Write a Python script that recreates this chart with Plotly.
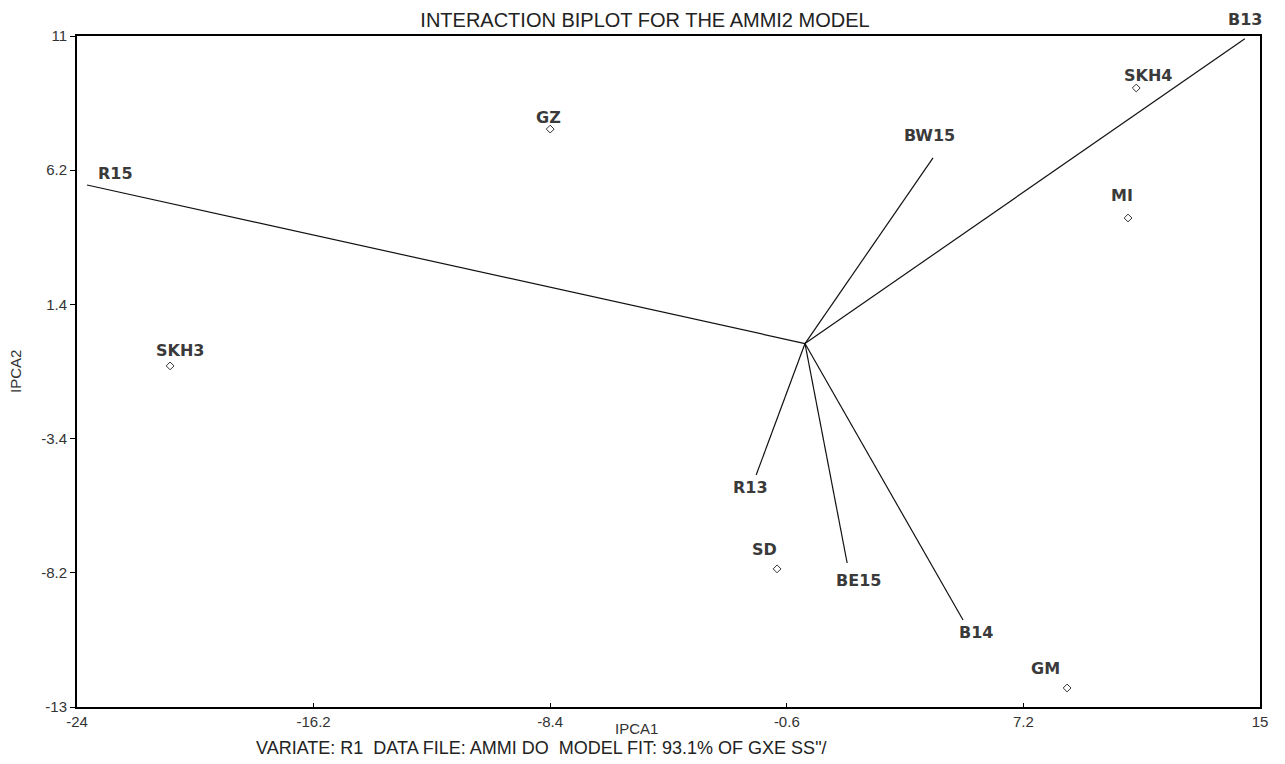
import plotly.graph_objects as go

# Environment vectors (IPCA1, IPCA2 scores)
env_names = ["B13", "BW15", "R15", "R13", "BE15", "B14"]
env_ipca1 = [14.5, 4.22, -23.67, -1.61, 1.39, 5.21]
env_ipca2 = [10.9, 6.64, 5.67, -4.70, -7.85, -9.89]

# Genotype points
gen_names = ["GZ", "SKH4", "MI", "SKH3", "SD", "GM"]
gen_ipca1 = [-8.40, 10.92, 10.65, -20.93, -0.92, 8.64]
gen_ipca2 = [7.67, 9.14, 4.49, -0.80, -8.06, -12.32]

origin = (0.0, 0.0)

x_ticks = [-24, -16.2, -8.4, -0.6, 7.2, 15]
y_ticks = [-13, -8.2, -3.4, 1.4, 6.2, 11]

# label offsets in pixels (style only)
env_shift = {"B13": (0, 19), "BW15": (-4, 22), "R15": (28, 12),
             "R13": (-6, -13), "BE15": (11, -17), "B14": (13, -12)}
gen_shift = {"GZ": (-2, 12), "SKH4": (12, 13), "MI": (-6, 23),
             "SKH3": (10, 15), "SD": (-13, 19), "GM": (-22, 19)}

# page body has an 8px margin; figure sized so plot box lands at 77..1260 x 36..707
W, H = 1269, 756
ML, MR, MT, MB = 69, 17, 28, 57
PW, PH = W - ML - MR, H - MT - MB

fig = go.Figure()

vx, vy = [], []
for x, y in zip(env_ipca1, env_ipca2):
    vx += [origin[0], x, None]
    vy += [origin[1], y, None]

fig.add_trace(go.Scatter(x=vx, y=vy, mode="lines",
                         line=dict(color="#111111", width=1.2),
                         cliponaxis=False, hoverinfo="skip", showlegend=False))

fig.add_trace(go.Scatter(x=gen_ipca1, y=gen_ipca2, mode="markers",
                         marker=dict(symbol="diamond-open", size=6,
                                     color="#333333", line=dict(width=1, color="#333333")),
                         text=gen_names, showlegend=False))

label_font = dict(family="DejaVu Sans", size=16, color="#3a3a3a", weight="bold")
for n, x, y in zip(env_names, env_ipca1, env_ipca2):
    dx, dy = env_shift[n]
    fig.add_annotation(x=x, y=y, text=n, showarrow=False, xshift=dx, yshift=dy,
                       font=label_font)
for n, x, y in zip(gen_names, gen_ipca1, gen_ipca2):
    dx, dy = gen_shift[n]
    fig.add_annotation(x=x, y=y, text=n, showarrow=False, xshift=dx, yshift=dy,
                       font=label_font)

axis_title_font = dict(family="Liberation Sans, Arial", size=15, color="#333333")

# screen positions -> paper coords (screen plot box 77..1260, 36..707)
def px(sx):
    return (sx - 77) / PW

def py(sy):
    return (707 - sy) / PH

fig.add_annotation(xref="paper", yref="paper", x=px(636), y=py(728), text="IPCA1",
                   showarrow=False, xanchor="center", yanchor="middle", font=axis_title_font)
fig.add_annotation(xref="paper", yref="paper", x=px(16), y=py(372), text="IPCA2",
                   textangle=-90, showarrow=False, xanchor="center", yanchor="middle",
                   font=axis_title_font)
fig.add_annotation(xref="paper", yref="paper", x=px(541), y=py(748),
                   text='VARIATE: R1  DATA FILE: AMMI DO  MODEL FIT: 93.1% OF GXE SS"/',
                   showarrow=False, xanchor="center", yanchor="middle",
                   font=dict(family="Liberation Sans, Arial", size=18, color="#222222"))

tickfont = dict(family="Liberation Sans, Arial", size=15, color="#333333")

fig.update_layout(
    width=W, height=H,
    margin=dict(l=ML, r=MR, t=MT, b=MB, pad=0),
    paper_bgcolor="white", plot_bgcolor="white",
    title=dict(text="INTERACTION BIPLOT FOR THE AMMI2 MODEL",
               x=(645 - 8) / W, xref="container", xanchor="center",
               y=1 - (20 - 8) / H, yref="container", yanchor="middle",
               font=dict(family="Liberation Sans, Arial", size=20, color="#222222")),
    xaxis=dict(range=[-24, 15], tickvals=x_ticks, ticktext=[f"{v:g}" for v in x_ticks],
               showgrid=False, zeroline=False, showline=True, linecolor="black",
               linewidth=2, mirror=True, ticks="inside", ticklen=4, tickcolor="black",
               tickfont=tickfont, automargin=False),
    yaxis=dict(range=[-13, 11], tickvals=y_ticks, ticktext=[f"{v:g}" for v in y_ticks],
               showgrid=False, zeroline=False, showline=True, linecolor="black",
               linewidth=2, mirror=True, ticks="outside", ticklen=5, tickcolor="black",
               tickfont=tickfont, automargin=False),
)

fig.write_html("out.html")
